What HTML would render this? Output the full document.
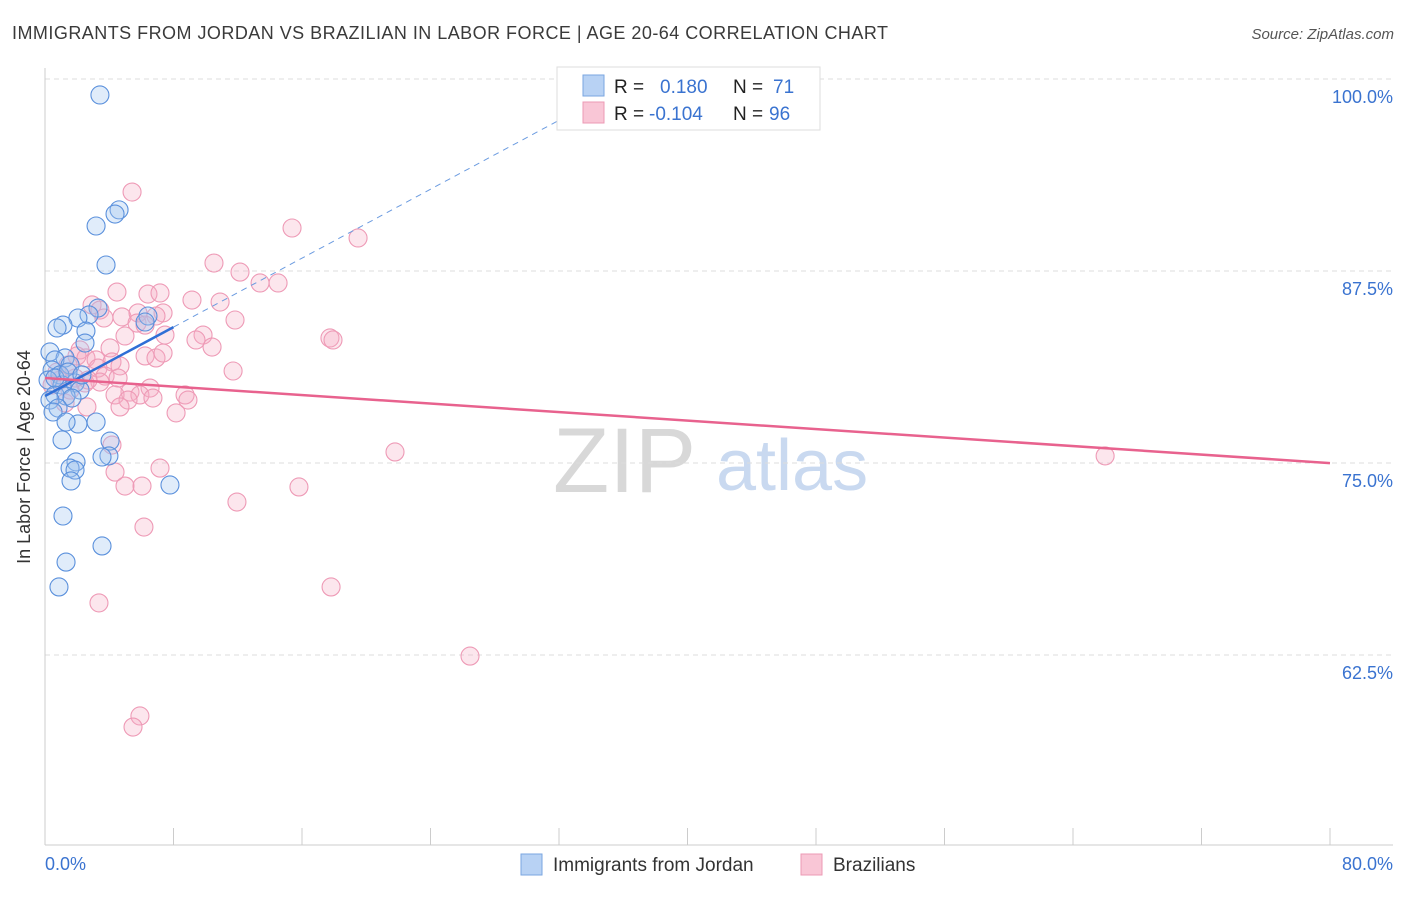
<!DOCTYPE html>
<html><head><meta charset="utf-8"><style>
body{margin:0;background:#fff;font-family:"Liberation Sans",sans-serif}
svg text{font-family:"Liberation Sans",sans-serif}
</style></head><body>
<svg id="c" width="1406" height="892">
<text x="12" y="39" font-size="18" fill="#3a3a3a" textLength="876" lengthAdjust="spacing">IMMIGRANTS FROM JORDAN VS BRAZILIAN IN LABOR FORCE | AGE 20-64 CORRELATION CHART</text>
<text x="1394" y="39" font-size="15" fill="#555" font-style="italic" text-anchor="end">Source: ZipAtlas.com</text>
<text x="30" y="457" font-size="18" fill="#333" text-anchor="middle" transform="rotate(-90 30 457)">In Labor Force | Age 20-64</text>
<g><text x="553" y="492" font-size="92" fill="#d8d8d8" font-family="Liberation Serif,serif">ZIP</text><text x="716" y="490" font-size="72" fill="#c9d9f0">atlas</text></g>
<g id="grid"></g><g id="pts"></g><g id="trend"></g>
<g>
<rect x="557" y="67" width="263" height="63" fill="#fff" stroke="#ddd"/>
<rect x="583" y="75" width="21" height="21" fill="#b8d2f4" stroke="#7aa6e0"/>
<rect x="583" y="102" width="21" height="21" fill="#f9c6d6" stroke="#ec9ab4"/>
<text x="614" y="93" font-size="19" fill="#222">R =</text><text x="660" y="93" font-size="19" fill="#3a73d0">0.180</text>
<text x="733" y="93" font-size="19" fill="#222">N =</text><text x="773" y="93" font-size="19" fill="#3a73d0">71</text>
<text x="614" y="120" font-size="19" fill="#222">R =</text><text x="649" y="120" font-size="19" fill="#3a73d0">-0.104</text>
<text x="733" y="120" font-size="19" fill="#222">N =</text><text x="769" y="120" font-size="19" fill="#3a73d0">96</text>
</g>
<g>
<rect x="521" y="854" width="21" height="21" fill="#b8d2f4" stroke="#7aa6e0"/>
<text x="553" y="871" font-size="19" fill="#333">Immigrants from Jordan</text>
<rect x="801" y="854" width="21" height="21" fill="#f9c6d6" stroke="#ec9ab4"/>
<text x="833" y="871" font-size="19" fill="#333">Brazilians</text>
</g>
</svg>
<script>
const blueX=[3.42,4.61,4.36,3.18,3.80,3.30,2.74,2.05,1.12,0.75,2.55,2.49,0.31,1.25,0.62,1.56,0.44,0.93,0.19,1.06,1.87,2.18,0.62,1.31,1.68,0.31,0.81,0.50,3.18,2.05,1.31,1.06,4.05,3.98,3.55,1.93,1.56,1.87,1.62,7.78,1.12,3.55,1.31,0.87,6.41,6.23,0.62,1.43,2.30];
const blueY=[98.96,91.48,91.21,90.43,87.89,85.09,84.64,84.44,83.98,83.79,83.59,82.81,82.23,81.84,81.71,81.38,81.05,80.73,80.40,80.08,80.21,79.75,79.43,79.36,79.23,79.10,78.58,78.32,77.67,77.54,77.67,76.50,76.43,75.46,75.39,75.07,74.67,74.54,73.83,73.57,71.55,69.60,68.55,66.93,84.57,84.18,80.53,80.92,80.73];
const pinkX=[5.42,15.38,19.49,10.52,12.14,13.39,14.51,4.48,6.41,7.16,9.15,10.90,2.93,3.42,3.67,4.79,5.79,7.35,6.91,11.83,5.73,6.23,9.84,9.40,10.40,17.74,17.93,4.98,7.47,2.18,4.05,1.99,2.55,6.23,6.91,7.35,3.18,4.17,11.71,3.30,4.67,3.74,4.55,3.42,2.49,6.54,5.29,4.36,5.91,5.17,6.72,8.72,8.90,1.25,2.61,4.67,8.16,1.87,0.93,1.56,0.75,4.17,21.79,4.36,7.16,4.98,6.04,15.81,11.95,6.16,17.81,3.36,26.46,5.91,5.48,66.0,2.68,1.43,0.44];
const pinkY=[92.64,90.30,89.65,88.02,87.43,86.72,86.72,86.13,86.00,86.07,85.61,85.48,85.29,84.96,84.44,84.51,84.77,84.77,84.57,84.31,84.11,83.98,83.33,83.01,82.55,83.14,83.01,83.27,83.33,82.36,82.49,81.97,81.84,81.97,81.84,82.16,81.71,81.58,80.99,81.18,81.32,80.66,80.53,80.27,80.21,79.88,79.62,79.43,79.43,79.10,79.23,79.43,79.10,78.91,78.65,78.65,78.26,80.53,80.40,79.75,80.92,76.17,75.72,74.41,74.67,73.50,73.50,73.44,72.46,70.83,66.93,65.89,62.43,58.53,57.81,75.46,80.40,81.38,80.08];
const yTicks=[100,87.5,75,62.5];
const yTickLabels=["100.0%","87.5%","75.0%","62.5%"];
const xTicks=[0,8,16,24,32,40,48,56,64,72,80];
const blueTrend=[79.36,0.561];
const pinkTrend=[80.53,-0.0692];
const NS="http://www.w3.org/2000/svg";
const X=v=>45+v/80*1285, Y=v=>79+(100-v)*15.36;
function mk(t,a,p){const e=document.createElementNS(NS,t);for(const k in a)e.setAttribute(k,a[k]);document.getElementById(p).appendChild(e);return e;}
yTicks.forEach((t,i)=>{
 const l=mk('line',{x1:45,x2:1393,y1:Y(t),y2:Y(t),stroke:'#ddd','stroke-dasharray':'5,4'},'grid');
 
 
 const tx=mk('text',{x:1393,y:Y(t)+24,'font-size':18,fill:'#3a73d0','text-anchor':'end'},'grid');tx.textContent=yTickLabels[i];
 
 
});
mk('line',{x1:45,x2:45,y1:68,y2:845,stroke:'#ccc'},'grid');
mk('line',{x1:45,x2:1393,y1:845,y2:845,stroke:'#ccc'},'grid');
xTicks.forEach(t=>{const l=mk('line',{x1:X(t),x2:X(t),y1:828,y2:845,stroke:'#ccc'},'grid');
 
 });
let a=mk('text',{x:45,y:870,'font-size':18,fill:'#3a73d0'},'grid');a.textContent='0.0%';


a=mk('text',{x:1393,y:870,'font-size':18,fill:'#3a73d0','text-anchor':'end'},'grid');a.textContent='80.0%';


pinkX.forEach((x,i)=>{const c=mk('circle',{cx:X(x),cy:Y(pinkY[i]),r:9,fill:'rgba(246,172,196,0.3)',stroke:'#ee9ab6','stroke-width':1.1},'pts');
 
 });
blueX.forEach((x,i)=>{const c=mk('circle',{cx:X(x),cy:Y(blueY[i]),r:9,fill:'rgba(160,196,240,0.32)',stroke:'#5a90dc','stroke-width':1.1},'pts');
 
 });
let t=mk('line',{x1:X(0),y1:Y(blueTrend[0]),x2:X(8),y2:Y(blueTrend[0]+8*blueTrend[1]),stroke:'#2f6fd6','stroke-width':2.5},'trend');


t=mk('line',{x1:X(8),y1:Y(blueTrend[0]+8*blueTrend[1]),x2:X(34),y2:Y(blueTrend[0]+34*blueTrend[1]),stroke:'#6b9be0','stroke-width':1,'stroke-dasharray':'6,5'},'trend');


t=mk('line',{x1:X(0),y1:Y(pinkTrend[0]),x2:X(80),y2:Y(pinkTrend[0]+80*pinkTrend[1]),stroke:'#e8628e','stroke-width':2.5},'trend');


</script>
</body></html>
